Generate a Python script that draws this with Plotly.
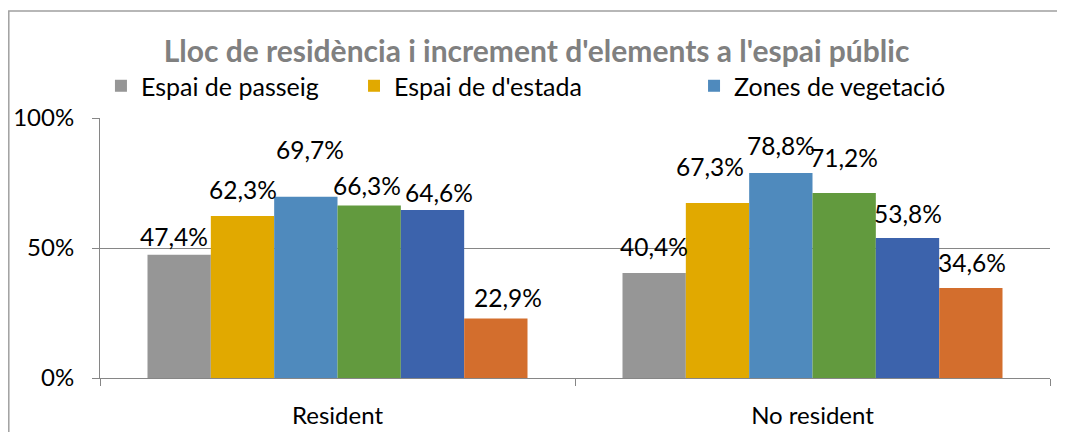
import plotly.graph_objects as go

categories = ["Resident", "No resident"]
series_names = ["Espai de passeig", "Espai de d'estada", "Zones de vegetació",
                "Sèrie 4", "Sèrie 5", "Sèrie 6"]
values_resident = [0.474, 0.623, 0.697, 0.663, 0.646, 0.229]
values_no_resident = [0.404, 0.673, 0.788, 0.712, 0.538, 0.346]
label_resident = ["47,4%", "62,3%", "69,7%", "66,3%", "64,6%", "22,9%"]
label_no_resident = ["40,4%", "67,3%", "78,8%", "71,2%", "53,8%", "34,6%"]
y_tickvals = [0, 0.5, 1.0]
y_ticktext = ["0%", "50%", "100%"]

colors = ["#969696", "#E1A900", "#4F8ABD", "#629A3E", "#3C63AC", "#D36E2D"]
in_legend = [True, True, True, False, False, False]
legend_ids = ["legend", "legend2", "legend3", None, None, None]
legend_x = [0.001, 0.2674, 0.6253]

# label pixel offsets (dx, dy) relative to top-centre of each bar
off_res = [(-5, -18), (0, -27), (4, -47), (-2.5, -20), (6.7, -18), (12, -21)]
off_nores = [(0, -26), (-7.5, -37), (0, -28), (0, -35), (0, -25), (1, -26)]

FONT = "Lato"
fig = go.Figure()
n = len(series_names)
for i in range(n):
    kw = dict(showlegend=in_legend[i])
    if legend_ids[i]:
        kw["legend"] = legend_ids[i]
    fig.add_trace(go.Bar(
        x=categories, y=[values_resident[i], values_no_resident[i]],
        name=series_names[i], marker=dict(color=colors[i], line=dict(width=0)),
        hoverinfo="skip", **kw))

bargap = 0.2
bw = (1 - bargap) / n
annotations = []
for ci, (vals, labs, offs) in enumerate([(values_resident, label_resident, off_res),
                                         (values_no_resident, label_no_resident, off_nores)]):
    for i in range(n):
        xc = ci - (1 - bargap) / 2 + bw * (i + 0.5)
        annotations.append(dict(x=xc, y=vals[i], xref="x", yref="y", text=labs[i],
                                showarrow=False, xanchor="center", yanchor="middle",
                                xshift=offs[i][0], yshift=-offs[i][1],
                                font=dict(family=FONT, size=24.5, color="#000000")))

legend_common = dict(orientation="h", yanchor="middle", xanchor="left", y=1.123,
                     font=dict(family=FONT, size=25, color="#000000"),
                     bgcolor="rgba(0,0,0,0)", itemclick=False)
layout_legends = {}
for k, lid in enumerate(["legend", "legend2", "legend3"]):
    layout_legends[lid] = dict(x=legend_x[k], **legend_common)

fig.update_layout(
    width=1057, height=424,
    margin=dict(l=92, r=15, t=110, b=54, autoexpand=False),
    paper_bgcolor="white", plot_bgcolor="white",
    barmode="group", bargap=bargap, bargroupgap=0,
    title=dict(text="<b>Lloc de residència i increment d'elements a l'espai públic</b>",
               x=0.5, xanchor="center", y=0.897, yanchor="middle",
               font=dict(family=FONT, size=30, color="#808080")),
    annotations=annotations,
    **layout_legends,
)
fig.update_yaxes(range=[0, 1.0], tickvals=y_tickvals, ticktext=y_ticktext,
                 showgrid=True, gridcolor="#868686", gridwidth=1,
                 showline=True, linecolor="#868686", linewidth=1,
                 ticks="outside", ticklen=7, tickcolor="#868686",
                 ticklabelstandoff=13,
                 tickfont=dict(family=FONT, size=24, color="#000000"),
                 zeroline=False)
fig.update_xaxes(showline=True, linecolor="#868686", linewidth=1,
                 ticks="outside", ticklen=7, tickcolor="#868686",
                 tickson="boundaries", ticklabelstandoff=16,
                 tickfont=dict(family=FONT, size=24, color="#000000"))
fig.add_shape(type="rect", xref="paper", yref="paper",
              x0=-0.0960, x1=1.1, y0=-0.4, y1=1.412,
              line=dict(color="#A0A0A0", width=1.5), fillcolor="rgba(0,0,0,0)",
              layer="below")
fig.write_html("out.html")
